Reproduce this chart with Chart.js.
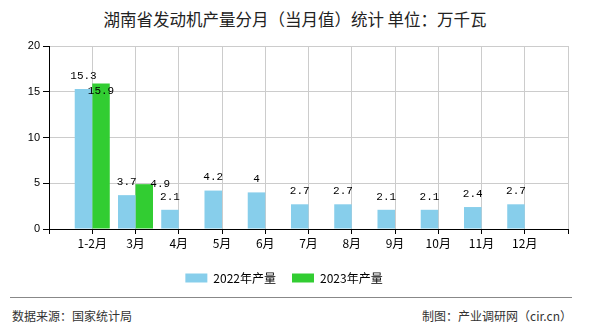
<!DOCTYPE html>
<html>
<head>
<meta charset="utf-8">
<script src="https://cdn.jsdelivr.net/npm/chart.js@4.4.0/dist/chart.umd.min.js"></script>
<style>
    body { margin: 0; background: #fff; }
    .page { position: relative; width: 590px; height: 330px; overflow: hidden; font-family: "Noto Sans CJK SC", "DejaVu Sans", sans-serif; }
    .title { position: absolute; left: 0; top: 7px; width: 590px; text-align: center; font-size: 16.5px; color: #222; line-height: 24px; }
    .chart-box { position: absolute; left: 0; top: 0; width: 590px; height: 294px; }
    .footer-line { position: absolute; left: 10px; top: 297px; width: 562px; height: 0; border-top: 1px solid #888; }
    .footer-left { position: absolute; left: 12px; top: 308px; font-size: 12px; color: #333; line-height: 16px; }
    .footer-right { position: absolute; right: 18px; top: 308px; font-size: 12px; color: #333; line-height: 16px; }
</style>
</head>
<body>
<div class="page">
    <div class="title">湖南省发动机产量分月（当月值）统计 单位：万千瓦</div>
    <div class="chart-box"><canvas id="prodChart"></canvas></div>
    <div class="footer-line"></div>
    <div class="footer-left">数据来源：国家统计局</div>
    <div class="footer-right">制图：产业调研网（cir.cn）</div>
</div>
<script>
// Chart data (empty slots at both ends keep the outer gridlines)
const months = ['', '1-2月', '3月', '4月', '5月', '6月', '7月', '8月', '9月', '10月', '11月', '12月', ''];
const output2022 = [null, 15.3, 3.7, 2.1, 4.2, 4, 2.7, 2.7, 2.1, 2.1, 2.4, 2.7, null];
const output2023 = [null, 15.9, 4.9, null, null, null, null, null, null, null, null, null, null];
const seriesNames = ['2022年产量', '2023年产量'];
const yTicks = [0, 5, 10, 15, 20];

// Value labels above each bar
const valueLabels = {
    id: 'valueLabels',
    afterDatasetsDraw(chart) {
        const ctx = chart.ctx;
        // label nudges for the 2023 series, as in the original picture
        const nudge = { '1-1': [0, 8], '1-2': [16, 0] };
        ctx.save();
        ctx.font = '11px "Liberation Mono", "DejaVu Sans Mono", monospace';
        ctx.fillStyle = '#000';
        ctx.textAlign = 'center';
        ctx.textBaseline = 'middle';
        chart.data.datasets.forEach((ds, di) => {
            chart.getDatasetMeta(di).data.forEach((bar, i) => {
                const v = ds.data[i];
                if (v === null) return;
                const n = nudge[di + '-' + i] || [0, -13];
                ctx.fillText(String(v), bar.x + n[0], bar.y + n[1]);
            });
        });
        ctx.restore();
    }
};

document.addEventListener('DOMContentLoaded', () => {
    const ctx = document.getElementById('prodChart').getContext('2d');
    new Chart(ctx, {
        type: 'bar',
        data: {
            labels: months,
            datasets: [{
                label: seriesNames[0],
                data: output2022,
                backgroundColor: '#87ceeb',
                categoryPercentage: 0.81,
                barPercentage: 1
            }, {
                label: seriesNames[1],
                data: output2023,
                backgroundColor: '#32cd32',
                categoryPercentage: 0.81,
                barPercentage: 1
            }]
        },
        options: {
            responsive: true,
            maintainAspectRatio: false,
            animation: false,
            layout: { padding: { top: 46, right: 22, left: 0, bottom: 0 } },
            scales: {
                x: {
                    offset: false,
                    grid: { offset: false, color: '#cccccc', tickColor: '#000', tickLength: 5 },
                    border: { color: '#000' },
                    ticks: {
                        autoSkip: false, maxRotation: 0, padding: 2,
                        color: '#000', font: { size: 12, family: '"Noto Sans CJK SC", sans-serif' }
                    },
                    afterFit: (scale) => { scale.height = 27; }
                },
                y: {
                    min: yTicks[0],
                    max: yTicks[yTicks.length - 1],
                    afterBuildTicks: (scale) => { scale.ticks = yTicks.map(v => ({ value: v })); },
                    grid: { color: '#cccccc', tickColor: '#000', tickLength: 6 },
                    border: { color: '#000' },
                    ticks: { padding: 3, color: '#000', font: { size: 11, family: '"Liberation Sans", Arial, sans-serif' } },
                    afterFit: (scale) => { scale.width = 49; }
                }
            },
            plugins: {
                legend: {
                    position: 'bottom',
                    labels: {
                        boxWidth: 22, boxHeight: 9, padding: 16,
                        color: '#000', font: { size: 12, family: '"Noto Sans CJK SC", sans-serif' }
                    }
                },
                tooltip: { enabled: false }
            }
        },
        plugins: [valueLabels]
    });
});
</script>
</body>
</html>
